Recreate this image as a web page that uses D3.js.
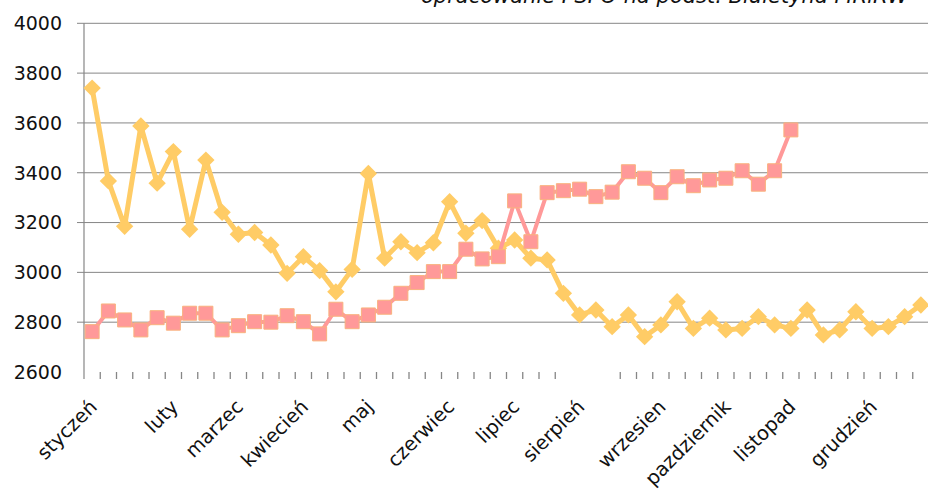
<!DOCTYPE html>
<html>
<head>
<meta charset="utf-8">
<script src="https://cdn.jsdelivr.net/npm/d3@7"></script>
<style>
  body { margin: 0; background: #fff; }
  svg { display: block; }
</style>
</head>
<body>
<div class="visContainer"></div>
<script>
// weekly data, 52 weeks
const weeks = d3.range(1, 53);
const monthLabels = ['styczeń', 'luty', 'marzec', 'kwiecień', 'maj', 'czerwiec',
                     'lipiec', 'sierpień', 'wrzesien', 'pazdziernik', 'listopad', 'grudzień'];
const monthWeeks = [1, 6, 10, 14, 18, 23, 27, 31, 36, 40, 44, 49];
const yTicks = [2600, 2800, 3000, 3200, 3400, 3600, 3800, 4000];
const missingTicks = [30, 31, 32];

const seriesYellow = [3740, 3367, 3185, 3588, 3358, 3485, 3173, 3451, 3241, 3153,
                      3160, 3110, 2996, 3063, 3007, 2922, 3012, 3397, 3057, 3123,
                      3079, 3119, 3284, 3157, 3208, 3097, 3130, 3057, 3050, 2916,
                      2829, 2849, 2782, 2829, 2742, 2789, 2882, 2775, 2816, 2769,
                      2775, 2822, 2789, 2775, 2849, 2749, 2769, 2842, 2775, 2782,
                      2822, 2869];
const seriesPink = [2762, 2845, 2809, 2769, 2818, 2796, 2836, 2836, 2769, 2786,
                    2802, 2800, 2826, 2802, 2753, 2852, 2802, 2829, 2860, 2916,
                    2959, 3003, 3003, 3093, 3054, 3063, 3287, 3123, 3320, 3328,
                    3334, 3304, 3322, 3404, 3378, 3320, 3384, 3348, 3371, 3378,
                    3408, 3354, 3408, 3572];

const sourceNote = 'opracowanie PSPO na podst. Biuletyna MRiRW';

const width = 928;
const height = 490;
const plotLeft = 84, plotRight = 929, plotTop = 23.3, plotBottom = 372;

const svg = d3.select('.visContainer')
              .append('svg')
              .attr('width', width)
              .attr('height', height)
              .style('font-family', '"DejaVu Sans", sans-serif');

const xScale = d3.scaleBand()
                 .domain(weeks)
                 .range([plotLeft, plotRight])
                 .padding(0);
const cx = (w) => xScale(w) + xScale.bandwidth() / 2;

const yScale = d3.scaleLinear()
                 .domain([2600, 4000])
                 .range([plotBottom, plotTop]);

// horizontal gridlines (none at the bottom)
svg.append('g')
   .selectAll('line')
   .data(yTicks.filter((t) => t > 2600))
   .enter()
   .append('line')
   .attr('x1', plotLeft - 7)
   .attr('x2', width)
   .attr('y1', (d) => yScale(d))
   .attr('y2', (d) => yScale(d))
   .attr('stroke', '#868686')
   .attr('stroke-width', 1);

// y labels
svg.append('g')
   .selectAll('text')
   .data(yTicks)
   .enter()
   .append('text')
   .attr('x', 62)
   .attr('y', (d) => yScale(d))
   .attr('dy', '0.36em')
   .attr('text-anchor', 'end')
   .attr('font-size', 19)
   .attr('fill', '#111')
   .text((d) => d);

// vertical axis line
svg.append('line')
   .attr('x1', plotLeft).attr('x2', plotLeft)
   .attr('y1', yScale(4000)).attr('y2', plotBottom + 7)
   .attr('stroke', '#868686')
   .attr('stroke-width', 1.2);

// category tick marks between weeks
const tickIdx = d3.range(1, weeks.length).filter((k) => !missingTicks.includes(k));
svg.append('g')
   .selectAll('line')
   .data(tickIdx)
   .enter()
   .append('line')
   .attr('x1', (k) => xScale(weeks[k]))
   .attr('x2', (k) => xScale(weeks[k]))
   .attr('y1', plotBottom)
   .attr('y2', plotBottom + 7)
   .attr('stroke', '#868686')
   .attr('stroke-width', 1.3);

// month labels
svg.append('g')
   .selectAll('text')
   .data(monthLabels)
   .enter()
   .append('text')
   .attr('transform', (d, i) => `translate(${cx(monthWeeks[i]) + 6},${plotBottom + 36}) rotate(-45)`)
   .attr('text-anchor', 'end')
   .attr('font-size', 19.5)
   .attr('fill', '#111')
   .text((d) => d);

// source note, clipped by the top edge
svg.append('text')
   .attr('x', 421)
   .attr('y', 3)
   .attr('font-size', 21)
   .attr('font-style', 'italic')
   .attr('fill', '#111')
   .text(sourceNote);

const line = d3.line()
               .x((d, i) => cx(weeks[i]))
               .y((d) => yScale(d));

// yellow series
svg.append('path')
   .datum(seriesYellow)
   .attr('fill', 'none')
   .attr('stroke', '#FFCC66')
   .attr('stroke-width', 5)
   .attr('stroke-linejoin', 'round')
   .attr('d', line);

svg.append('g')
   .selectAll('path')
   .data(seriesYellow)
   .enter()
   .append('path')
   .attr('d', d3.symbol().type(d3.symbolSquare).size(150))
   .attr('transform', (d, i) => `translate(${cx(weeks[i])},${yScale(d)}) rotate(45)`)
   .attr('fill', '#FFCC66');

// pink series
svg.append('path')
   .datum(seriesPink)
   .attr('fill', 'none')
   .attr('stroke', '#FF9999')
   .attr('stroke-width', 4)
   .attr('stroke-linejoin', 'round')
   .attr('d', line);

svg.append('g')
   .selectAll('rect')
   .data(seriesPink)
   .enter()
   .append('path')
   .attr('d', d3.symbol().type(d3.symbolSquare).size(196))
   .attr('transform', (d, i) => `translate(${cx(weeks[i])},${yScale(d)})`)
   .attr('fill', '#FF9999')
   .attr('stroke', '#F9B27E')
   .attr('stroke-width', 1);
</script>
</body>
</html>
